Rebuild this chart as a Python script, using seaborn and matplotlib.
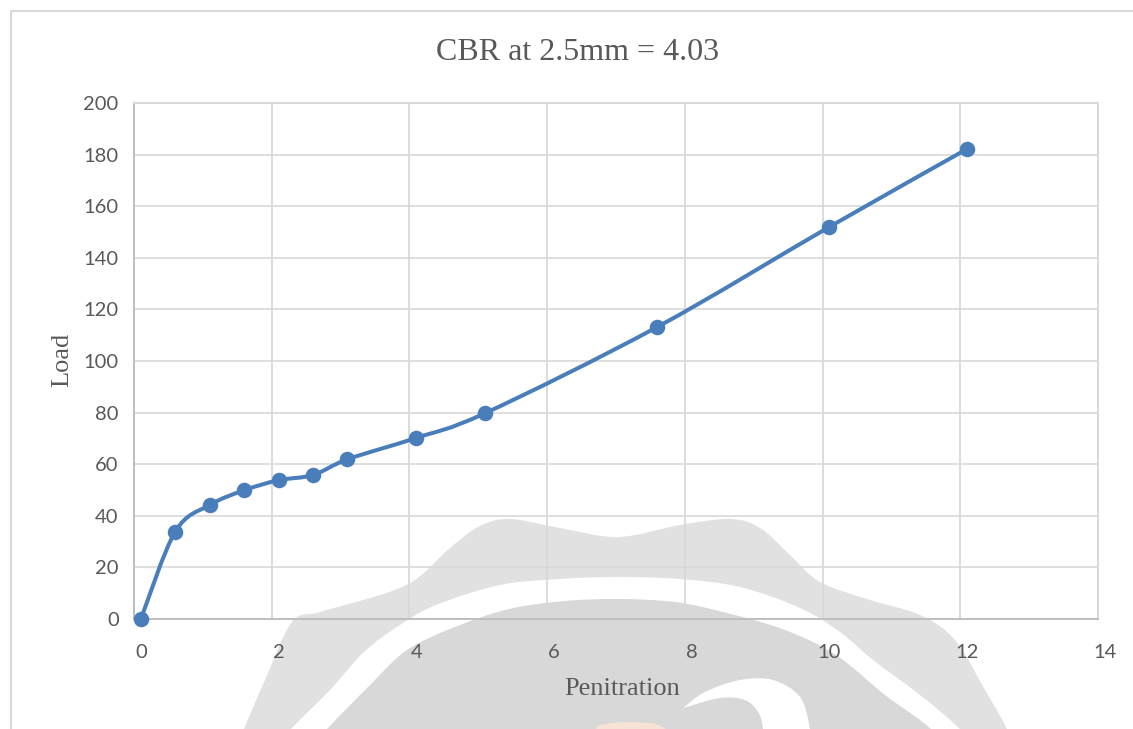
import numpy as np
import pandas as pd
import matplotlib
matplotlib.use("Agg")
import matplotlib.pyplot as plt
import seaborn as sns
from matplotlib.path import Path
from matplotlib.patches import PathPatch

penetration = [0, 0.5, 1, 1.5, 2, 2.5, 3, 4, 5, 7.5, 10, 12]
load = [0, 33.9, 44.2, 49.9, 53.8, 55.8, 61.9, 70.2, 79.8, 113.2, 152, 182.2]
x_ticks = [0, 2, 4, 6, 8, 10, 12, 14]
y_ticks = [0, 20, 40, 60, 80, 100, 120, 140, 160, 180, 200]

BLUE = "#4a7ebb"
GRID = "#d9d9d9"
AXIS = "#bfbfbf"
TEXT = "#595959"
W, H = 1133, 729

sns.set_theme(style="white")
plt.rcParams["font.family"] = ["Lato", "DejaVu Sans"]

df = pd.DataFrame({"penetration": penetration, "load": load})

fig = plt.figure(figsize=(W / 100, H / 100), dpi=100, facecolor="white")
ax = fig.add_axes([134 / W, 1 - 619 / H, (1098 - 134) / W, (619 - 103) / H])
ax.set_facecolor("none")


def smooth_path(pts):
    # bezier handles taken from the neighbours, same as a spreadsheet smoothed line
    pts = np.asarray(pts, dtype=float)
    verts = [tuple(pts[0])]
    codes = [Path.MOVETO]
    for i in range(len(pts) - 1):
        before = pts[max(i - 1, 0)]
        after = pts[min(i + 2, len(pts) - 1)]
        verts += [tuple(pts[i] + (pts[i + 1] - before) / 6),
                  tuple(pts[i + 1] - (after - pts[i]) / 6),
                  tuple(pts[i + 1])]
        codes += [Path.CURVE4] * 3
    return Path(verts, codes)


# background watermark, in picture pixels
def blob(points, color):
    pts = [(px / W, 1 - py / H) for px, py in points]
    fig.add_artist(PathPatch(smooth_path(pts + pts[:1]), facecolor=color, edgecolor="none",
                             transform=fig.transFigure, zorder=-1))


blob([(215, 800), (244, 729), (265, 680), (292, 622), (320, 612), (380, 595), (415, 580), (450, 548),
      (480, 526), (510, 519), (560, 528), (618, 537), (680, 525), (730, 519), (760, 528),
      (790, 555), (820, 582), (870, 600), (920, 615), (955, 640), (985, 690), (1007, 729),
      (1040, 800), (620, 850)], "#e1e1e1")
blob([(250, 775), (291, 729), (330, 690), (364, 652), (400, 625), (436, 605), (500, 585), (560, 579),
      (618, 577), (680, 579), (740, 587), (800, 608), (840, 632), (873, 660), (920, 695), (960, 729),
      (1005, 775), (620, 850)], "#ffffff")
blob([(285, 775), (327, 729), (370, 685), (407, 650), (455, 627), (509, 609), (565, 601), (618, 599),
      (675, 602), (727, 613), (785, 630), (836, 655), (885, 695), (931, 729),
      (975, 775), (620, 850)], "#d8d8d8")
blob([(683, 708), (705, 692), (740, 680), (773, 680), (800, 697), (810, 729), (815, 770),
      (765, 770), (763, 729), (758, 712), (745, 700), (720, 698)], "#ffffff")
blob([(575, 760), (595, 730), (605, 724), (630, 722), (655, 724), (668, 732), (685, 760)], "#f7e3d6")

p = np.column_stack([penetration, load])
ax.add_patch(PathPatch(smooth_path(p), facecolor="none", edgecolor=BLUE, lw=2.9, zorder=3))

sns.scatterplot(data=df, x="penetration", y="load", color=BLUE, s=125, linewidth=0,
                clip_on=False, zorder=4, ax=ax)

# gridlines sit a little left of the labels in the original
ax.set_xticks(x_ticks[:-1])
ax.set_xticks([t - 0.1 for t in x_ticks], minor=True)
ax.set_yticks(y_ticks)
ax.set_xlim(-0.1, 13.9)
ax.set_ylim(0, 200)
ax.grid(True, axis="y", color=GRID, lw=1.2)
ax.grid(True, axis="x", which="minor", color=GRID, lw=1.3)
ax.grid(False, axis="x", which="major")
ax.set_axisbelow(True)
ax.tick_params(axis="x", which="both", length=0, pad=18, labelsize=14.5, labelcolor=TEXT)
ax.tick_params(axis="y", length=0, pad=11, labelsize=14.5, labelcolor=TEXT)
# last label falls just past the axis end
ax.annotate(str(x_ticks[-1]), (x_ticks[-1], 0), xytext=(0, -18), textcoords="offset points",
            ha="center", va="top", fontsize=14.5, color=TEXT, annotation_clip=False)

for side in ["top", "right"]:
    ax.spines[side].set_color(GRID)
    ax.spines[side].set_linewidth(1.4)
for side in ["left", "bottom"]:
    ax.spines[side].set_color(AXIS)
    ax.spines[side].set_linewidth(1.4)

serif = ["Liberation Serif", "DejaVu Serif"]
ax.set_title("CBR at 2.5mm = 4.03", family=serif, fontsize=23, color=TEXT, pad=0,
             x=(578 - 134) / (1098 - 134), y=(619 - 60) / (619 - 103))
ax.set_xlabel("Penitration", family=serif, fontsize=19, color=TEXT)
ax.set_ylabel("Load", family=serif, fontsize=19, color=TEXT)
ax.xaxis.set_label_coords((622 - 134) / (1098 - 134), -(678 - 619) / (619 - 103))
ax.yaxis.set_label_coords(-(134 - 73) / (1098 - 134), (619 - 360) / (619 - 103))

# outer chart frame, cut off by the page on the right and at the bottom
fig.add_artist(plt.Line2D([11 / W, 11 / W, 1], [0, 1 - 11 / H, 1 - 11 / H], color=GRID, lw=1.5,
                          transform=fig.transFigure, zorder=-0.5))

fig.savefig("out.png", dpi=100)
